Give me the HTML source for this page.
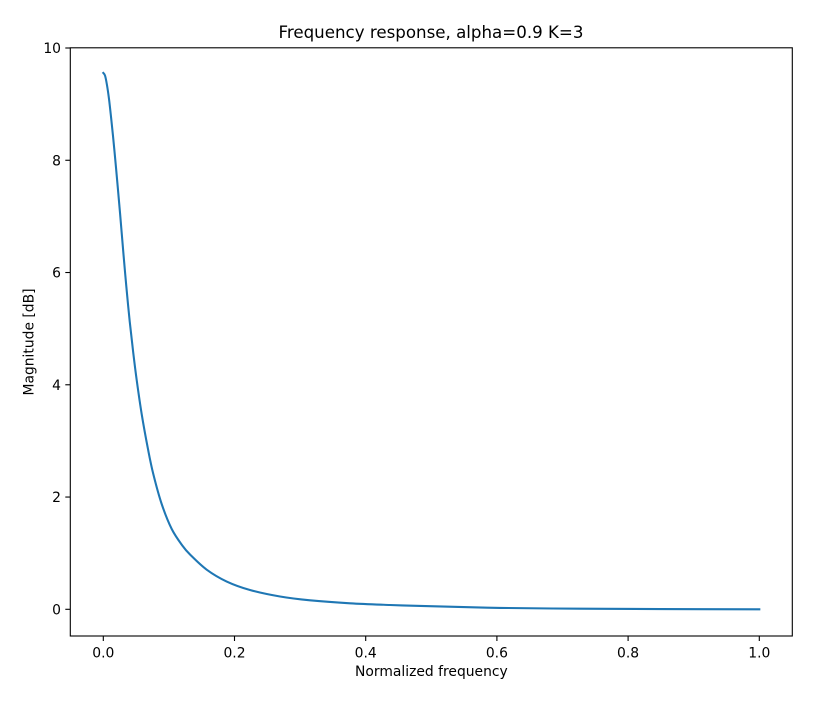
<!DOCTYPE html>
<html>
<head>
<meta charset="utf-8">
<style>
html,body{margin:0;padding:0;background:#fff;}
svg{display:block;}
text{font-family:"DejaVu Sans",sans-serif;fill:#000;}
</style>
</head>
<body>
<svg id="chart" width="815" height="717" viewBox="0 0 815 717" xmlns="http://www.w3.org/2000/svg">
<rect x="0" y="0" width="815" height="717" fill="#fff"/>
<g id="ticks"></g>
<path id="line" fill="none" stroke="#1f77b4" stroke-width="2.08" stroke-linejoin="round" stroke-linecap="square"/>
<rect x="70.3" y="47.8" width="722" height="588.2" fill="none" stroke="#000" stroke-width="1.1"/>
<text x="431" y="38" font-size="16.67" text-anchor="middle">Frequency response, alpha=0.9 K=3</text>
<text x="431.4" y="676" font-size="13.89" text-anchor="middle">Normalized frequency</text>
<text x="0" y="0" font-size="13.89" text-anchor="middle" transform="translate(33.5,342) rotate(-90)">Magnitude [dB]</text>
</svg>
<script>
const freq = [0, 0.0026, 0.0056, 0.0087, 0.0117, 0.0148, 0.0183, 0.0216, 0.0255, 0.0308, 0.0351, 0.0402, 0.0457, 0.0509, 0.0585, 0.0681, 0.0762, 0.089, 0.1043, 0.121, 0.1322, 0.1576, 0.1881, 0.2236, 0.2694, 0.3151, 0.3761, 0.437, 0.498, 0.6047, 0.7267, 0.8486, 1.0];
const magnitude = [9.555, 9.51, 9.341, 9.091, 8.78, 8.432, 8.005, 7.577, 7.06, 6.321, 5.751, 5.136, 4.566, 4.085, 3.479, 2.856, 2.41, 1.876, 1.431, 1.128, 0.976, 0.706, 0.495, 0.344, 0.228, 0.16, 0.107, 0.077, 0.055, 0.025, 0.011, 0.004, 0];
const xTickValues = [0, 0.2, 0.4, 0.6, 0.8, 1.0];
const xTickLabels = ['0.0', '0.2', '0.4', '0.6', '0.8', '1.0'];
const yTickValues = [0, 2, 4, 6, 8, 10];
const yTickLabels = ['0', '2', '4', '6', '8', '10'];

const NS = 'http://www.w3.org/2000/svg';
function xScale(v) { return 103.3 + v * 656; }
function yScale(v) { return 609.3 - v * 56.13; }

const tickGroup = document.getElementById('ticks');
function addEl(tag, attrs) {
  const el = document.createElementNS(NS, tag);
  for (const k in attrs) el.setAttribute(k, attrs[k]);
  tickGroup.appendChild(el);
  return el;
}

xTickValues.forEach(function (v, i) {
  const x = xScale(v);
  const mark = addEl('line', {x1: x, x2: x, y1: 636, y2: 641, stroke: '#000', 'stroke-width': 1.1});
  
  
  const label = addEl('text', {x: x, y: 657.5, 'font-size': 13.89, 'text-anchor': 'middle'});
  label.textContent = xTickLabels[i];
  
  
});

yTickValues.forEach(function (v, i) {
  const y = yScale(v);
  const mark = addEl('line', {x1: 65.3, x2: 70.3, y1: y, y2: y, stroke: '#000', 'stroke-width': 1.1});
  
  
  const label = addEl('text', {x: 61, y: y + 5, 'font-size': 13.89, 'text-anchor': 'end'});
  label.textContent = yTickLabels[i];
  
  
});

// Smooth Catmull-Rom path through the data points
const pts = freq.map(function (f, i) { return [xScale(f), yScale(magnitude[i])]; });
let d = 'M' + pts[0][0].toFixed(2) + ' ' + pts[0][1].toFixed(2);
for (let i = 0; i < pts.length - 1; i++) {
  const p0 = pts[Math.max(0, i - 1)], p1 = pts[i], p2 = pts[i + 1], p3 = pts[Math.min(pts.length - 1, i + 2)];
  const c1x = p1[0] + (p2[0] - p0[0]) / 6, c1y = p1[1] + (p2[1] - p0[1]) / 6;
  const c2x = p2[0] - (p3[0] - p1[0]) / 6, c2y = p2[1] - (p3[1] - p1[1]) / 6;
  d += 'C' + c1x.toFixed(2) + ' ' + c1y.toFixed(2) + ' ' + c2x.toFixed(2) + ' ' + c2y.toFixed(2) + ' ' + p2[0].toFixed(2) + ' ' + p2[1].toFixed(2);
}
document.getElementById('line').setAttribute('d', d);
</script>
</body>
</html>
